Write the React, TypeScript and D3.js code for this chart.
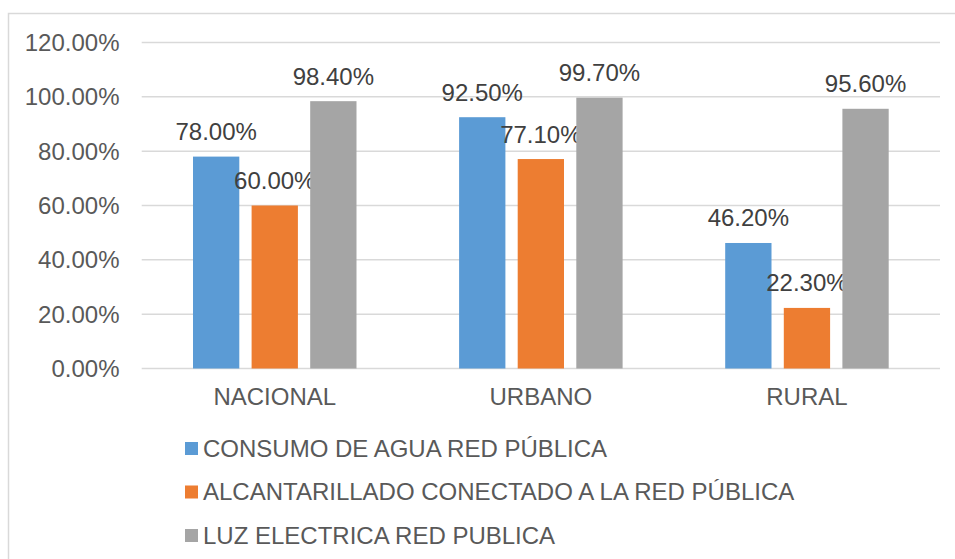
import React from "react";
import * as d3 from "d3";

const categories = ["NACIONAL", "URBANO", "RURAL"];
const seriesNames = [
  "CONSUMO DE AGUA RED PÚBLICA",
  "ALCANTARILLADO CONECTADO A LA RED PÚBLICA",
  "LUZ ELECTRICA RED PUBLICA",
];
const agua = [78.0, 92.5, 46.2];
const alcantarillado = [60.0, 77.1, 22.3];
const luz = [98.4, 99.7, 95.6];
const yTicks = [0, 20, 40, 60, 80, 100, 120];
const colors = ["#5b9bd5", "#ed7d31", "#a5a5a5"];

export default function App() {
  const W = 955;
  const H = 559;
  const left = 141.7;
  const right = 940;
  const top = 42.5;
  const bottom = 368.5;
  const series = [agua, alcantarillado, luz];

  const x = d3.scaleBand<string>().domain(categories).range([left, right]).paddingInner(0).paddingOuter(0);
  const barW = 46.3;
  const gap = 12.3;
  const groupW = barW * 3 + gap * 2;
  const y = d3.scaleLinear().domain([0, 120]).range([bottom, top]);
  const font = "'Liberation Sans', Arial, sans-serif";
  const fs = 24;

  return (
    <svg width={W} height={H} style={{ position: "absolute", left: 0, top: 0 }} fontFamily={font}>
      <rect x={0} y={0} width={W} height={H} fill="#ffffff" />
      <path d={`M8.5,${H} V13.5 H${W}`} fill="none" stroke="#d9d9d9" strokeWidth={1.5} />
      {yTicks.map((t) => (
        <g key={t}>
          <line x1={left} x2={right} y1={y(t)} y2={y(t)} stroke="#d9d9d9" strokeWidth={1.5} />
          <text x={119.5} y={y(t)} dy="0.35em" textAnchor="end" fontSize={fs} fill="#595959">
            {d3.format(".2f")(t)}%
          </text>
        </g>
      ))}
      {categories.map((c, ci) => {
        const cx = (x(c) as number) + x.bandwidth() / 2;
        const start = cx - groupW / 2;
        return (
          <g key={c}>
            {series.map((s, si) => {
              const bx = start + si * (barW + gap);
              const v = s[ci];
              return (
                <g key={si}>
                  <rect x={bx} y={y(v)} width={barW} height={y(0) - y(v)} fill={colors[si]} />
                  <text x={bx + barW / 2} y={y(v) - 16.5} textAnchor="middle" fontSize={fs} fill="#404040">
                    {d3.format(".2f")(v)}%
                  </text>
                </g>
              );
            })}
            <text x={cx} y={404.5} textAnchor="middle" fontSize={fs} fill="#595959">
              {c}
            </text>
          </g>
        );
      })}
      {seriesNames.map((n, i) => (
        <g key={n}>
          <rect x={185} y={442 + i * 43.5} width={13} height={13} fill={colors[i]} />
          <text x={203} y={456.5 + i * 43.5} fontSize={fs} fill="#595959">
            {n}
          </text>
        </g>
      ))}
    </svg>
  );
}
